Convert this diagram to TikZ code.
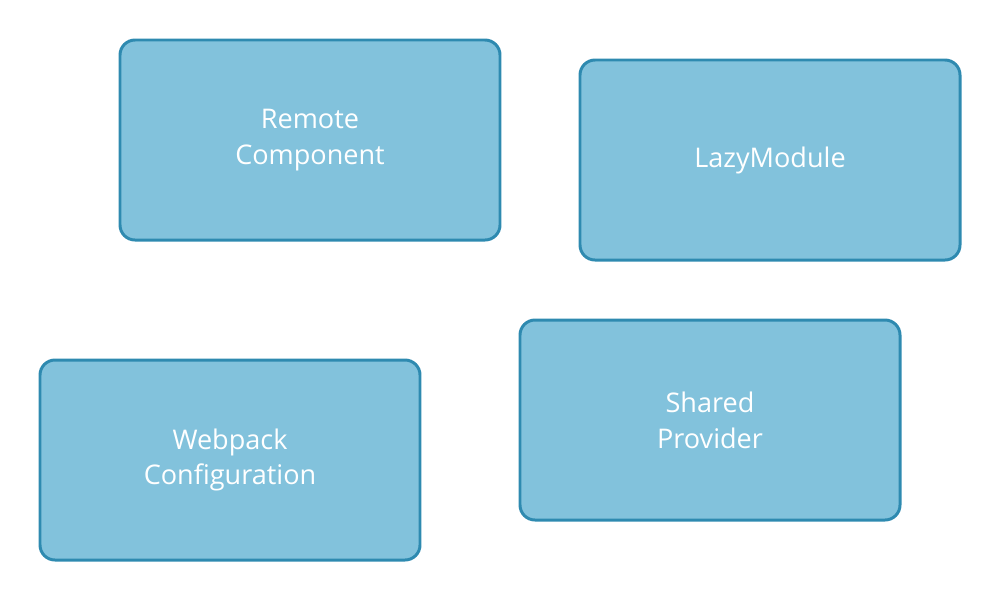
\documentclass[tikz,border=0pt]{standalone}
\usepackage{fontspec}
\setmainfont{Open Sans}
\usetikzlibrary{shapes.geometric}
\pgfdeclarelayer{edgelayer}
\pgfdeclarelayer{nodelayer}
\pgfsetlayers{edgelayer,nodelayer,main}
\definecolor{boxfill}{HTML}{82C2DC}
\definecolor{boxline}{HTML}{2E8AB0}
\tikzstyle{none}=[inner sep=0pt]
\tikzstyle{module}=[rectangle,rounded corners=0.3cm,fill=boxfill,draw=boxline,line width=1.7pt,minimum width=7.6cm,minimum height=4cm,align=center,text=white,font=\fontsize{15.4pt}{20.4pt}\selectfont]

\begin{document}
\begin{tikzpicture}
	\useasboundingbox (0, 0) rectangle (20, -12);
	\begin{pgfonlayer}{nodelayer}
		\node [style=module] (0) at (6.2, -2.8) {Remote\\Component};
		\node [style=module] (1) at (15.4, -3.2) {LazyModule};
		\node [style=module] (2) at (4.6, -9.2) {Webpack\\Configuration};
		\node [style=module] (3) at (14.2, -8.4) {Shared\\Provider};
	\end{pgfonlayer}
\end{tikzpicture}
\end{document}
